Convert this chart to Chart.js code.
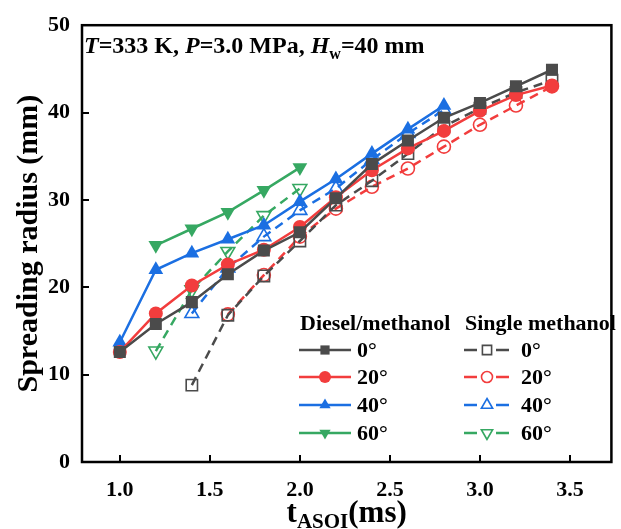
<!DOCTYPE html>
<html>
<head>
<meta charset="utf-8">
<title>Spreading radius</title>
<script src="https://cdn.jsdelivr.net/npm/chart.js@4.4.1/dist/chart.umd.min.js"></script>
<style>
  html, body { margin: 0; padding: 0; background: #fff; }
  #wrap { width: 621px; height: 529px; }
</style>
</head>
<body>
<div id="wrap"><canvas id="myChart" width="621" height="529"></canvas></div>
<script>
// time after start of injection (ms)
const tDiesel0 = [1.0, 1.2, 1.4, 1.6, 1.8, 2.0, 2.2, 2.4, 2.6, 2.8, 3.0, 3.2, 3.4];
const tDiesel40 = [1.0, 1.2, 1.4, 1.6, 1.8, 2.0, 2.2, 2.4, 2.6, 2.8];
const tDiesel60 = [1.2, 1.4, 1.6, 1.8, 2.0];
const tSingle0 = [1.4, 1.6, 1.8, 2.0, 2.2, 2.4, 2.6, 2.8, 3.0, 3.2, 3.4];
const tSingle20 = [1.6, 1.8, 2.0, 2.2, 2.4, 2.6, 2.8, 3.0, 3.2, 3.4];
const tSingle40 = [1.4, 1.6, 1.8, 2.0, 2.2, 2.4, 2.6, 2.8];
const tSingle60 = [1.2, 1.4, 1.6, 1.8, 2.0];

// spreading radius (mm)
const diesel0 = [12.6, 15.8, 18.3, 21.5, 24.2, 26.3, 30.2, 34.1, 36.8, 39.4, 41.1, 43.0, 44.9];
const diesel20 = [12.6, 17.0, 20.2, 22.6, 24.3, 26.9, 30.3, 33.4, 35.9, 37.9, 40.2, 42.0, 43.1];
const diesel40 = [13.7, 22.0, 23.9, 25.5, 27.1, 29.8, 32.4, 35.3, 38.1, 40.8];
const diesel60 = [24.8, 26.7, 28.6, 31.1, 33.7];
const single0 = [8.8, 16.8, 21.3, 25.3, 29.4, 32.2, 35.3, 38.4, 40.5, 42.3, 43.7];
const single20 = [16.9, 21.4, 25.8, 29.0, 31.5, 33.6, 36.1, 38.6, 40.8, 43.0];
const single40 = [17.0, 22.2, 25.8, 28.8, 31.3, 34.6, 37.6, 40.3];
const single60 = [12.7, 19.7, 24.1, 28.2, 31.3];

const angleLabels = ['0°', '20°', '40°', '60°'];
const xTicks = [1.0, 1.5, 2.0, 2.5, 3.0, 3.5];
const yTicks = [0, 10, 20, 30, 40, 50];

const GRAY = '#4b4b4b', RED = '#f23d3d', BLUE = '#1b6fe2', GREEN = '#36a862';
const colors = [GRAY, RED, BLUE, GREEN];
const styles = ['rect', 'circle', 'triangle', 'triangle'];
const rotations = [0, 0, 0, 180];
const radii = [8.5, 7, 8.5, 8.5];
const FONT = '"Liberation Serif", "Times New Roman", serif';

function pts(xs, ys) {
  return xs.map((x, i) => ({ x: x, y: ys[i] }));
}

const dieselSets = [[tDiesel0, diesel0], [tDiesel0, diesel20], [tDiesel40, diesel40], [tDiesel60, diesel60]];
const singleSets = [[tSingle0, single0], [tSingle20, single20], [tSingle40, single40], [tSingle60, single60]];

let datasets = [];
singleSets.forEach((s, i) => {
  datasets.push({
    label: 'Single methanol ' + angleLabels[i],
    data: pts(s[0], s[1]),
    borderColor: colors[i],
    backgroundColor: 'rgba(255,255,255,0)',
    borderWidth: 2.5,
    borderDash: [9, 6],
    pointStyle: styles[i],
    rotation: rotations[i],
    pointRadius: radii[i] - 0.5,
    pointBorderWidth: 1.6,
    pointBorderColor: colors[i],
    pointBackgroundColor: 'rgba(255,255,255,0)',
    order: 2
  });
});
dieselSets.forEach((s, i) => {
  datasets.push({
    label: 'Diesel/methanol ' + angleLabels[i],
    data: pts(s[0], s[1]),
    borderColor: colors[i],
    backgroundColor: colors[i],
    borderWidth: 2.5,
    pointStyle: styles[i],
    rotation: rotations[i],
    pointRadius: radii[i],
    pointBorderWidth: 0,
    pointBackgroundColor: colors[i],
    order: 1
  });
});

const AREA = { left: 82, top: 22, right: 617, bottom: 462 };

const decor = {
  id: 'decor',
  afterDraw(chart) {
    const ctx = chart.ctx;
    const ca = chart.chartArea;
    const xs = chart.scales.x, ys = chart.scales.y;
    ctx.save();
    // frame
    ctx.strokeStyle = '#000';
    ctx.lineWidth = 2.5;
    ctx.strokeRect(ca.left, ca.top, ca.right - ca.left, ca.bottom - ca.top);
    // inward ticks
    ctx.lineWidth = 2;
    ctx.beginPath();
    xTicks.forEach(v => {
      const px = Math.round(xs.getPixelForValue(v));
      ctx.moveTo(px, ca.bottom);
      ctx.lineTo(px, ca.bottom - 7);
    });
    yTicks.slice(1, -1).forEach(v => {
      const py = Math.round(ys.getPixelForValue(v));
      ctx.moveTo(ca.left, py);
      ctx.lineTo(ca.left + 7, py);
    });
    ctx.stroke();

    ctx.fillStyle = '#000';
    ctx.textBaseline = 'alphabetic';
    ctx.textAlign = 'left';

    // condition note
    let x = 84;
    const yb = 53;
    const runs = [
      ['T', true], ['=333 K, ', false], ['P', true], ['=3.0 MPa, ', false], ['H', true]
    ];
    runs.forEach(r => {
      ctx.font = (r[1] ? 'italic ' : '') + 'bold 24px ' + FONT;
      ctx.fillText(r[0], x, yb);
      x += ctx.measureText(r[0]).width;
    });
    ctx.font = 'bold 16px ' + FONT;
    ctx.fillText('w', x, yb + 6);
    x += ctx.measureText('w').width;
    ctx.font = 'bold 24px ' + FONT;
    ctx.fillText('=40 mm', x, yb);

    // x title with subscript
    const big = 'bold 31px ' + FONT, small = 'bold 21px ' + FONT;
    ctx.font = big;
    const wT = ctx.measureText('t').width, wMs = ctx.measureText('(ms)').width;
    ctx.font = small;
    const wSub = ctx.measureText('ASOI').width;
    let tx = (ca.left + ca.right) / 2 - (wT + wSub + wMs) / 2;
    const tb = 522;
    ctx.font = big;
    ctx.fillText('t', tx, tb);
    tx += wT;
    ctx.font = small;
    ctx.fillText('ASOI', tx, tb + 6);
    tx += wSub;
    ctx.font = big;
    ctx.fillText('(ms)', tx, tb);

    // y title
    ctx.save();
    ctx.translate(37, (ca.top + ca.bottom) / 2);
    ctx.rotate(-Math.PI / 2);
    ctx.textAlign = 'center';
    ctx.font = 'bold 30px ' + FONT;
    ctx.fillText('Spreading radius (mm)', 0, 0);
    ctx.restore();

    // legend
    ctx.font = 'bold 22px ' + FONT;
    ctx.textBaseline = 'middle';
    ctx.fillText('Diesel/methanol', 300, 324);
    ctx.fillText('Single methanol', 465, 324);
    const rowsY = [350, 377, 405, 433];
    angleLabels.forEach((lab, i) => {
      const y = rowsY[i];
      // diesel entry
      ctx.strokeStyle = colors[i];
      ctx.lineWidth = 2.5;
      ctx.setLineDash([]);
      ctx.beginPath();
      ctx.moveTo(299, y);
      ctx.lineTo(351, y);
      ctx.stroke();
      ctx.fillStyle = colors[i];
      Chart.helpers.drawPoint(ctx, {
        pointStyle: styles[i], rotation: rotations[i],
        radius: i === 1 ? 6 : 6.5, borderWidth: 0
      }, 325, y);
      // single entry
      ctx.beginPath();
      ctx.moveTo(464, y); ctx.lineTo(477, y);
      ctx.moveTo(496, y); ctx.lineTo(509, y);
      ctx.stroke();
      ctx.lineWidth = 1.6;
      ctx.fillStyle = '#fff';
      Chart.helpers.drawPoint(ctx, {
        pointStyle: styles[i], rotation: rotations[i],
        radius: i === 1 ? 5.5 : 6.5, borderWidth: 1.6
      }, 487, y);
      ctx.fillStyle = '#000';
      ctx.font = 'bold 22px ' + FONT;
      ctx.fillText(lab, 357, y + 1);
      ctx.fillText(lab, 521, y + 1);
    });
    ctx.restore();
  }
};

const config = {
  type: 'line',
  data: { datasets: datasets },
  options: {
    responsive: false,
    animation: false,
    layout: { padding: { left: 0, top: AREA.top, right: 621 - AREA.right, bottom: 0 } },
    plugins: {
      legend: { display: false },
      tooltip: { enabled: false }
    },
    scales: {
      x: {
        type: 'linear',
        min: 0.79,
        max: 3.73,
        afterBuildTicks: s => { s.ticks = xTicks.map(v => ({ value: v })); },
        afterFit: s => { s.height = 529 - AREA.bottom; },
        grid: { display: false, drawTicks: false },
        border: { display: false },
        ticks: {
          padding: 15,
          color: '#000',
          font: { family: FONT, size: 22, weight: 'bold' },
          callback: v => Number(v).toFixed(1)
        }
      },
      y: {
        type: 'linear',
        min: 0,
        max: 50,
        afterBuildTicks: s => { s.ticks = yTicks.map(v => ({ value: v })); },
        afterFit: s => { s.width = AREA.left; },
        grid: { display: false, drawTicks: false },
        border: { display: false },
        ticks: {
          padding: 12,
          color: '#000',
          font: { family: FONT, size: 22, weight: 'bold' }
        }
      }
    }
  },
  plugins: [decor]
};

const myChart = new Chart(document.getElementById('myChart'), config);
</script>
</body>
</html>
